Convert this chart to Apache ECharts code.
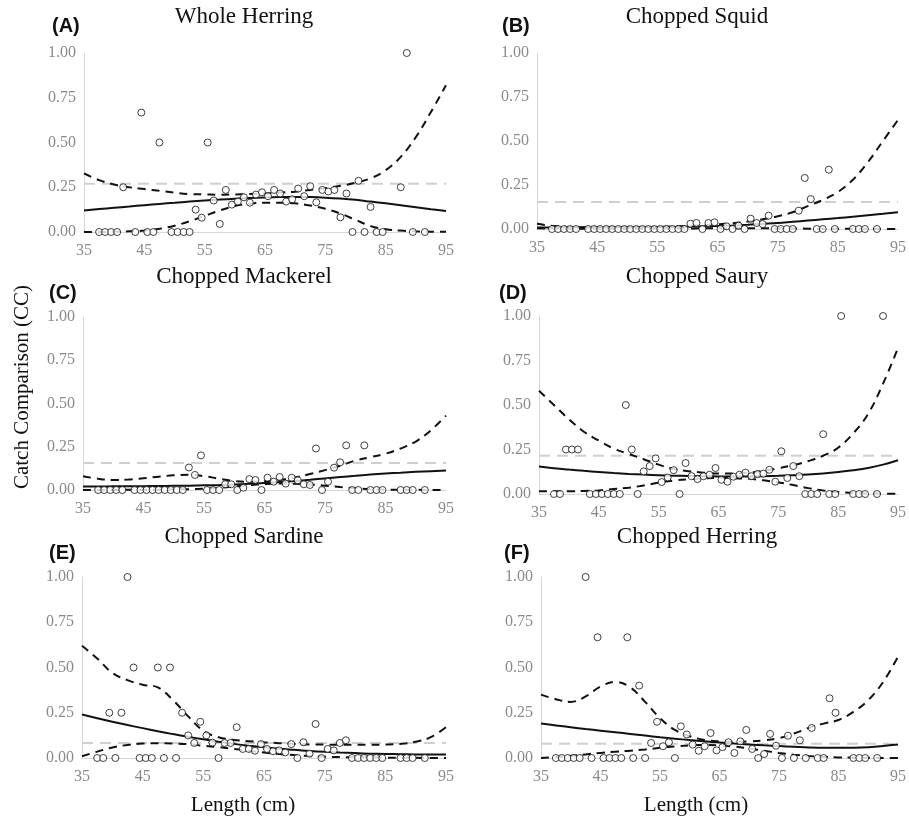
<!DOCTYPE html>
<html>
<head>
<meta charset="utf-8">
<script src="https://cdn.jsdelivr.net/npm/echarts@6/dist/echarts.min.js"></script>
<style>
  html, body { margin: 0; padding: 0; background: #fff; }
  #chart { width: 909px; height: 822px; }
</style>
</head>
<body>
<div id="chart"></div>
<script>
// panels
var panelNames = ['Whole Herring', 'Chopped Squid', 'Chopped Mackerel', 'Chopped Saury', 'Chopped Sardine', 'Chopped Herring'];
var panelTags = ['(A)', '(B)', '(C)', '(D)', '(E)', '(F)'];
var xTicks = [35, 45, 55, 65, 75, 85, 95];
var yTicks = [0, 0.25, 0.5, 0.75, 1];

// observed catch comparison per length class
var lenA = [37.5, 38.5, 39.5, 40.5, 41.5, 43.5, 44.5, 45.5, 46.5, 47.5, 49.5, 50.5, 51.5, 52.5, 53.5, 54.5, 55.5, 56.5, 57.5, 58.5, 59.5, 60.5, 61.5, 62.5, 63.5, 64.5, 65.5, 66.5, 67.5, 68.5, 69.5, 70.5, 71.5, 72.5, 73.5, 74.5, 75.5, 76.5, 77.5, 78.5, 79.5, 80.5, 81.5, 82.5, 83.5, 84.5, 87.5, 88.5, 89.5, 91.5];
var ccA = [0, 0, 0, 0, 0.25, 0, 0.667, 0, 0, 0.5, 0, 0, 0, 0, 0.125, 0.08, 0.5, 0.176, 0.045, 0.235, 0.153, 0.17, 0.194, 0.164, 0.209, 0.222, 0.2, 0.235, 0.215, 0.17, 0.183, 0.243, 0.2, 0.256, 0.166, 0.235, 0.226, 0.235, 0.082, 0.215, 0, 0.286, 0, 0.14, 0, 0, 0.25, 1, 0, 0];

var lenB = [37.5, 38.5, 39.5, 40.5, 41.5, 43.5, 44.5, 45.5, 46.5, 47.5, 48.5, 49.5, 50.5, 51.5, 52.5, 53.5, 54.5, 55.5, 56.5, 57.5, 58.5, 59.5, 60.5, 61.5, 62.5, 63.5, 64.5, 65.5, 66.5, 67.5, 68.5, 69.5, 70.5, 71.5, 72.5, 73.5, 74.5, 75.5, 76.5, 77.5, 78.5, 79.5, 80.5, 81.5, 82.5, 83.5, 84.5, 87.5, 88.5, 89.5, 91.5];
var ccB = [0, 0, 0, 0, 0, 0, 0, 0, 0, 0, 0, 0, 0, 0, 0, 0, 0, 0, 0, 0, 0, 0, 0.03, 0.034, 0, 0.034, 0.038, 0, 0.015, 0, 0.019, 0, 0.059, 0.034, 0.028, 0.076, 0, 0, 0, 0, 0.104, 0.29, 0.17, 0, 0, 0.337, 0, 0, 0, 0, 0];

var lenC = [37.5, 38.5, 39.5, 40.5, 41.5, 43.5, 44.5, 45.5, 46.5, 47.5, 48.5, 49.5, 50.5, 51.5, 52.5, 53.5, 54.5, 55.5, 56.5, 57.5, 58.5, 59.5, 60.5, 61.5, 62.5, 63.5, 64.5, 65.5, 66.5, 67.5, 68.5, 69.5, 70.5, 71.5, 72.5, 73.5, 74.5, 75.5, 76.5, 77.5, 78.5, 79.5, 80.5, 81.5, 82.5, 83.5, 84.5, 87.5, 88.5, 89.5, 91.5];
var ccC = [0, 0, 0, 0, 0, 0, 0, 0, 0, 0, 0, 0, 0, 0, 0.13, 0.087, 0.2, 0, 0, 0, 0.033, 0.033, 0, 0.013, 0.063, 0.058, 0, 0.071, 0.048, 0.075, 0.037, 0.071, 0.056, 0.033, 0.029, 0.24, 0, 0.048, 0.129, 0.16, 0.258, 0, 0, 0.258, 0, 0, 0, 0, 0, 0, 0];

var lenD = [37.5, 38.5, 39.5, 40.5, 41.5, 43.5, 44.5, 45.5, 46.5, 47.5, 48.5, 49.5, 50.5, 51.5, 52.5, 53.5, 54.5, 55.5, 56.5, 57.5, 58.5, 59.5, 60.5, 61.5, 62.5, 63.5, 64.5, 65.5, 66.5, 67.5, 68.5, 69.5, 70.5, 71.5, 72.5, 73.5, 74.5, 75.5, 76.5, 77.5, 78.5, 79.5, 80.5, 81.5, 82.5, 83.5, 84.5, 85.5, 87.5, 88.5, 89.5, 91.5, 92.5];
var ccD = [0, 0, 0.25, 0.25, 0.25, 0, 0, 0, 0, 0, 0, 0.5, 0.25, 0, 0.127, 0.157, 0.2, 0.067, 0.093, 0.134, 0, 0.174, 0.1, 0.084, 0.1, 0.108, 0.146, 0.08, 0.069, 0.097, 0.108, 0.12, 0.1, 0.112, 0.114, 0.136, 0.069, 0.24, 0.09, 0.157, 0.1, 0, 0, 0, 0.336, 0, 0, 1, 0, 0, 0, 0, 1];

var lenE = [37.5, 38.5, 39.5, 40.5, 41.5, 42.5, 43.5, 44.5, 45.5, 46.5, 47.5, 48.5, 49.5, 50.5, 51.5, 52.5, 53.5, 54.5, 55.5, 56.5, 57.5, 58.5, 59.5, 60.5, 61.5, 62.5, 63.5, 64.5, 65.5, 66.5, 67.5, 68.5, 69.5, 70.5, 71.5, 72.5, 73.5, 74.5, 75.5, 76.5, 77.5, 78.5, 79.5, 80.5, 81.5, 82.5, 83.5, 84.5, 87.5, 88.5, 89.5, 91.5];
var ccE = [0, 0, 0.25, 0, 0.25, 1, 0.5, 0, 0, 0, 0.5, 0, 0.5, 0, 0.25, 0.125, 0.083, 0.2, 0.125, 0.085, 0, 0.083, 0.083, 0.17, 0.05, 0.05, 0.04, 0.077, 0.05, 0.037, 0.042, 0.031, 0.077, 0, 0.087, 0.024, 0.188, 0, 0.05, 0.042, 0.083, 0.098, 0, 0, 0, 0, 0, 0, 0, 0, 0, 0];

var lenF = [37.5, 38.5, 39.5, 40.5, 41.5, 42.5, 43.5, 44.5, 45.5, 46.5, 47.5, 48.5, 49.5, 50.5, 51.5, 52.5, 53.5, 54.5, 55.5, 56.5, 57.5, 58.5, 59.5, 60.5, 61.5, 62.5, 63.5, 64.5, 65.5, 66.5, 67.5, 68.5, 69.5, 70.5, 71.5, 72.5, 73.5, 74.5, 75.5, 76.5, 77.5, 78.5, 79.5, 80.5, 81.5, 82.5, 83.5, 84.5, 87.5, 88.5, 89.5, 91.5];
var ccF = [0, 0, 0, 0, 0, 1, 0, 0.667, 0, 0, 0, 0, 0.667, 0, 0.4, 0, 0.083, 0.2, 0.065, 0.087, 0, 0.175, 0.13, 0.074, 0.04, 0.065, 0.138, 0.042, 0.06, 0.087, 0.028, 0.092, 0.155, 0.05, 0, 0.022, 0.133, 0.068, 0, 0.123, 0, 0.098, 0, 0.166, 0, 0, 0.33, 0.25, 0, 0, 0, 0];

// fitted curve and 95% band, read at every 2.5 cm
var fitLen = [35, 37.5, 40, 42.5, 45, 47.5, 50, 52.5, 55, 57.5, 60, 62.5, 65, 67.5, 70, 72.5, 75, 77.5, 80, 82.5, 85, 87.5, 90, 92.5, 95];

var fitA = [0.12, 0.128, 0.135, 0.142, 0.15, 0.157, 0.163, 0.17, 0.176, 0.181, 0.186, 0.19, 0.193, 0.195, 0.196, 0.195, 0.192, 0.187, 0.18, 0.17, 0.16, 0.149, 0.138, 0.127, 0.117];
var upA = [0.327, 0.29, 0.265, 0.25, 0.24, 0.23, 0.22, 0.212, 0.21, 0.208, 0.21, 0.212, 0.215, 0.22, 0.225, 0.235, 0.245, 0.258, 0.275, 0.3, 0.345, 0.42, 0.53, 0.67, 0.82];
var loA = [0, 0, 0.002, 0.004, 0.008, 0.018, 0.035, 0.06, 0.09, 0.12, 0.145, 0.158, 0.163, 0.163, 0.16, 0.148, 0.13, 0.103, 0.068, 0.033, 0.015, 0.008, 0.004, 0.002, 0.001];

var fitB = [0.008, 0.008, 0.008, 0.008, 0.009, 0.009, 0.01, 0.01, 0.011, 0.012, 0.013, 0.015, 0.017, 0.02, 0.024, 0.029, 0.034, 0.041, 0.048, 0.055, 0.062, 0.07, 0.078, 0.086, 0.095];
var upB = [0.03, 0.018, 0.012, 0.01, 0.01, 0.01, 0.011, 0.011, 0.012, 0.014, 0.018, 0.022, 0.027, 0.033, 0.042, 0.055, 0.072, 0.095, 0.13, 0.165, 0.21, 0.28, 0.38, 0.5, 0.62];
var loB = [0.004, 0.003, 0.002, 0.002, 0.002, 0.002, 0.002, 0.002, 0.003, 0.003, 0.003, 0.004, 0.004, 0.004, 0.004, 0.004, 0.003, 0.003, 0.002, 0.002, 0.001, 0.001, 0.001, 0, 0];

var fitC = [0.02, 0.02, 0.021, 0.021, 0.022, 0.023, 0.024, 0.025, 0.027, 0.029, 0.032, 0.036, 0.04, 0.046, 0.052, 0.059, 0.067, 0.075, 0.082, 0.089, 0.095, 0.1, 0.105, 0.109, 0.112];
var upC = [0.08, 0.065, 0.058, 0.06, 0.068, 0.077, 0.085, 0.088, 0.08, 0.065, 0.052, 0.048, 0.05, 0.058, 0.072, 0.092, 0.115, 0.14, 0.17, 0.19, 0.21, 0.24, 0.28, 0.345, 0.43];
var loC = [0, 0, 0, 0.001, 0.001, 0.002, 0.003, 0.005, 0.008, 0.013, 0.02, 0.028, 0.034, 0.037, 0.036, 0.032, 0.025, 0.017, 0.01, 0.005, 0.002, 0.001, 0.001, 0, 0];

var fitD = [0.155, 0.145, 0.137, 0.13, 0.124, 0.118, 0.113, 0.109, 0.106, 0.103, 0.101, 0.1, 0.099, 0.099, 0.099, 0.1, 0.102, 0.105, 0.109, 0.115, 0.123, 0.133, 0.146, 0.165, 0.19];
var upD = [0.58, 0.5, 0.42, 0.35, 0.3, 0.255, 0.225, 0.195, 0.165, 0.14, 0.128, 0.12, 0.115, 0.115, 0.12, 0.13, 0.145, 0.162, 0.185, 0.215, 0.26, 0.34, 0.45, 0.62, 0.82];
var loD = [0.015, 0.015, 0.015, 0.017, 0.02, 0.028, 0.035, 0.048, 0.063, 0.075, 0.083, 0.088, 0.09, 0.089, 0.085, 0.077, 0.065, 0.05, 0.033, 0.02, 0.011, 0.006, 0.003, 0.002, 0.001];

var fitE = [0.24, 0.22, 0.2, 0.182, 0.165, 0.148, 0.132, 0.117, 0.103, 0.09, 0.078, 0.068, 0.059, 0.051, 0.045, 0.039, 0.034, 0.03, 0.027, 0.024, 0.022, 0.021, 0.02, 0.02, 0.02];
var upE = [0.62, 0.55, 0.47, 0.43, 0.405, 0.39, 0.32, 0.23, 0.15, 0.115, 0.1, 0.093, 0.087, 0.082, 0.078, 0.075, 0.074, 0.073, 0.073, 0.073, 0.074, 0.078, 0.09, 0.115, 0.17];
var loE = [0.01, 0.035, 0.058, 0.072, 0.08, 0.082, 0.08, 0.076, 0.068, 0.06, 0.05, 0.04, 0.03, 0.022, 0.016, 0.011, 0.007, 0.005, 0.004, 0.003, 0.002, 0.001, 0.001, 0, 0];

var fitF = [0.19, 0.18, 0.17, 0.16, 0.151, 0.142, 0.133, 0.124, 0.115, 0.107, 0.099, 0.092, 0.086, 0.08, 0.075, 0.07, 0.066, 0.062, 0.058, 0.056, 0.056, 0.057, 0.06, 0.066, 0.074];
var upF = [0.35, 0.325, 0.31, 0.34, 0.395, 0.42, 0.39, 0.31, 0.22, 0.155, 0.12, 0.1, 0.092, 0.09, 0.092, 0.098, 0.11, 0.135, 0.166, 0.19, 0.21, 0.255, 0.32, 0.42, 0.56];
var loF = [0, 0.005, 0.012, 0.02, 0.028, 0.035, 0.04, 0.047, 0.056, 0.064, 0.07, 0.072, 0.07, 0.063, 0.052, 0.04, 0.028, 0.018, 0.011, 0.006, 0.003, 0.002, 0.001, 0, 0];

// overall catch comparison (grey dashed reference)
var refCC = [0.27, 0.153, 0.156, 0.215, 0.083, 0.079];

var lens = [lenA, lenB, lenC, lenD, lenE, lenF];
var ccs = [ccA, ccB, ccC, ccD, ccE, ccF];
var fits = [fitA, fitB, fitC, fitD, fitE, fitF];
var ups = [upA, upB, upC, upD, upE, upF];
var los = [loA, loB, loC, loD, loE, loF];

// plot areas (left, top, width, height)
var boxes = [
  [84, 53, 362, 179],
  [537, 53, 361, 176],
  [83, 317, 363, 173],
  [539, 316, 359, 178],
  [82, 577, 364, 181],
  [541, 577, 361, 181]
];
var titlePos = [[244, 17], [697, 17], [244, 277], [697, 277], [244, 537], [697, 537]];
var tagPos = [[52, 26], [502, 26], [49, 293], [499, 293], [49, 553], [504, 553]];

var serif = '"Liberation Serif", "Times New Roman", serif';

function pairs(xs, ys) {
  var out = [];
  for (var i = 0; i < xs.length; i++) out.push([xs[i], ys[i]]);
  return out;
}

var grids = [], xAxes = [], yAxes = [], series = [], graphics = [];

for (var p = 0; p < 6; p++) {
  var b = boxes[p];
  grids.push({ left: b[0], top: b[1], width: b[2], height: b[3] });
  xAxes.push({
    type: 'value', gridIndex: p, min: 35, max: 95, interval: 10,
    axisLine: { show: true, onZero: true, lineStyle: { color: '#d6d6d6', width: 1 } },
    axisTick: { show: false }, splitLine: { show: false },
    axisLabel: { color: '#8a8a8a', fontFamily: serif, fontSize: 16, margin: 11,
      showMinLabel: true, showMaxLabel: true,
      formatter: function (v) { return xTicks.indexOf(v) >= 0 ? String(v) : ''; } }
  });
  yAxes.push({
    type: 'value', gridIndex: p, min: 0, max: 1, interval: 0.25,
    axisLine: { show: true, lineStyle: { color: '#d6d6d6', width: 1 } },
    axisTick: { show: false }, splitLine: { show: false },
    axisLabel: { color: '#8a8a8a', fontFamily: serif, fontSize: 16, margin: 8,
      formatter: function (v) { return yTicks.indexOf(v) >= 0 ? v.toFixed(2) : ''; } }
  });

  // grey reference line
  series.push({
    type: 'line', xAxisIndex: p, yAxisIndex: p, silent: true, symbol: 'none',
    data: [[35, refCC[p]], [95, refCC[p]]],
    lineStyle: { color: '#cfcfcf', width: 2, type: [11, 7] }, z: 1
  });
  // confidence band
  series.push({
    type: 'line', xAxisIndex: p, yAxisIndex: p, silent: true, symbol: 'none', smooth: 0.4,
    data: pairs(fitLen, ups[p]),
    lineStyle: { color: '#111', width: 2, type: [8, 6] }, z: 2
  });
  series.push({
    type: 'line', xAxisIndex: p, yAxisIndex: p, silent: true, symbol: 'none', smooth: 0.4,
    data: pairs(fitLen, los[p]),
    lineStyle: { color: '#111', width: 2, type: [8, 6] }, z: 2
  });
  // fitted curve
  series.push({
    type: 'line', xAxisIndex: p, yAxisIndex: p, silent: true, symbol: 'none', smooth: 0.4,
    data: pairs(fitLen, fits[p]),
    lineStyle: { color: '#111', width: 2 }, z: 3
  });
  // observations
  series.push({
    type: 'scatter', xAxisIndex: p, yAxisIndex: p, symbol: 'circle', symbolSize: 7,
    data: pairs(lens[p], ccs[p]),
    itemStyle: { color: '#fff', borderColor: '#111', borderWidth: 1 }, z: 4
  });

  graphics.push({
    type: 'text', x: titlePos[p][0], y: titlePos[p][1],
    style: { text: panelNames[p], font: '23px ' + serif, fill: '#111',
      align: 'center', verticalAlign: 'middle', textAlign: 'center', textVerticalAlign: 'middle' }
  });
  graphics.push({
    type: 'text', x: tagPos[p][0], y: tagPos[p][1],
    style: { text: panelTags[p], font: 'bold 20px "Liberation Sans", Arial, sans-serif', fill: '#111',
      align: 'left', verticalAlign: 'middle', textAlign: 'left', textVerticalAlign: 'middle' }
  });
}

graphics.push({
  type: 'text', x: 22, y: 387, rotation: Math.PI / 2,
  style: { text: 'Catch Comparison (CC)', font: '21px ' + serif, fill: '#111',
    align: 'center', verticalAlign: 'middle', textAlign: 'center', textVerticalAlign: 'middle' }
});
graphics.push({
  type: 'text', x: 243, y: 805,
  style: { text: 'Length (cm)', font: '21px ' + serif, fill: '#111',
    align: 'center', verticalAlign: 'middle', textAlign: 'center', textVerticalAlign: 'middle' }
});
graphics.push({
  type: 'text', x: 696, y: 805,
  style: { text: 'Length (cm)', font: '21px ' + serif, fill: '#111',
    align: 'center', verticalAlign: 'middle', textAlign: 'center', textVerticalAlign: 'middle' }
});

var chart = echarts.init(document.getElementById('chart'), null, { renderer: 'canvas' });
chart.setOption({
  animation: false,
  backgroundColor: '#fff',
  grid: grids,
  xAxis: xAxes,
  yAxis: yAxes,
  series: series,
  graphic: graphics
});
</script>
</body>
</html>
